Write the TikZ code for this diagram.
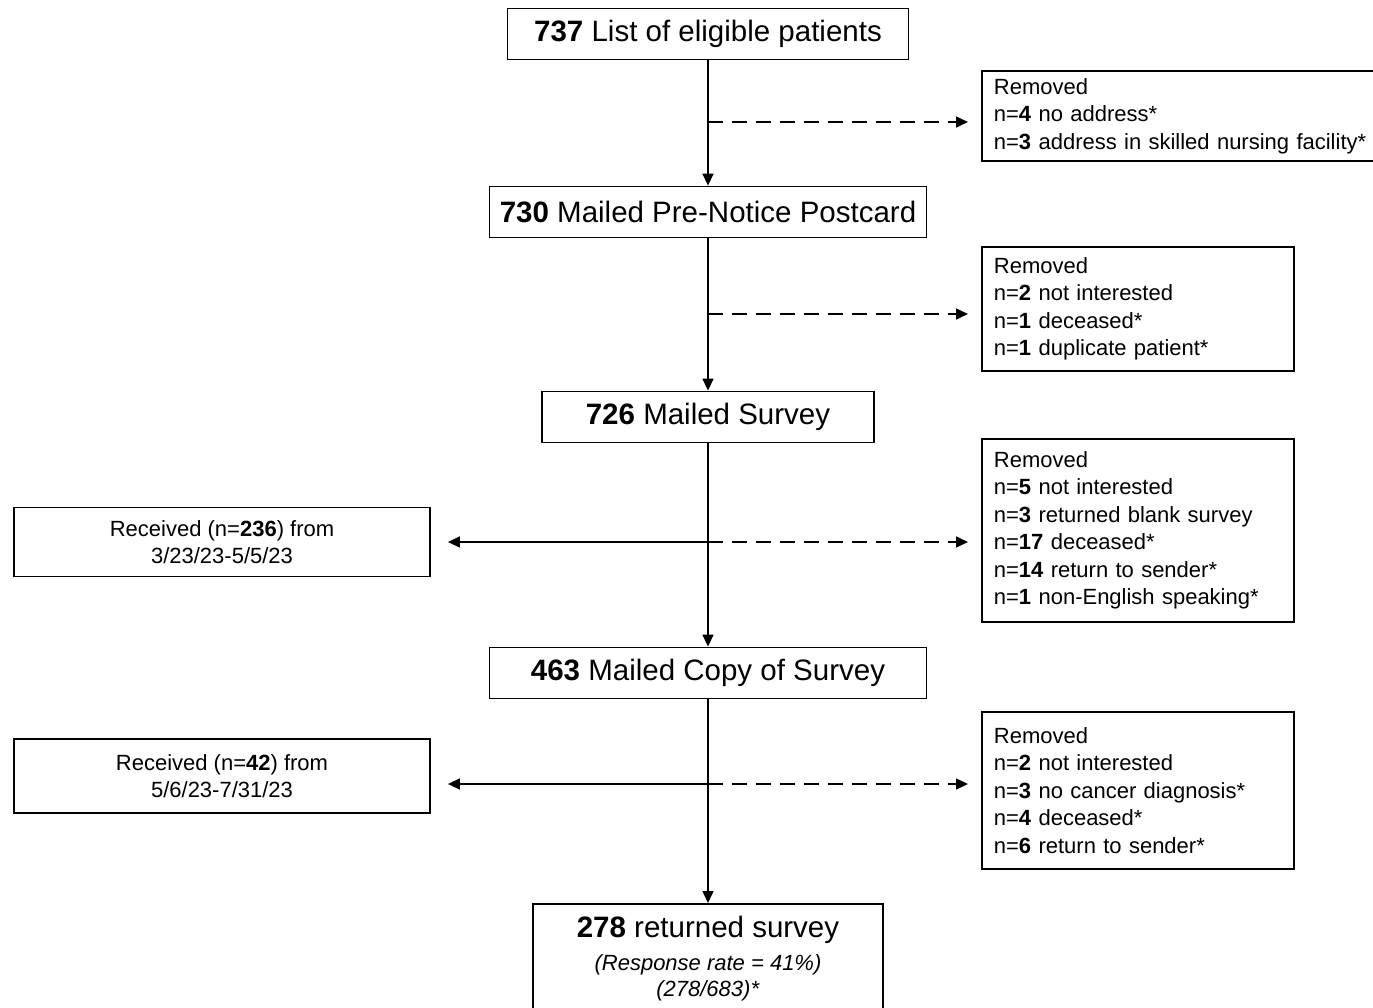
\documentclass[tikz,border=0pt]{standalone}
\usepackage{fontspec}
\setmainfont{Liberation Sans}
\usetikzlibrary{arrows.meta,positioning}

\tikzset{
  stepbox/.style={draw, line width=1.8pt, minimum height=51pt, inner sep=0pt,
    font=\fontsize{29.5}{35}\selectfont},
  removedbox/.style={draw, line width=1.8pt, anchor=north west, align=left,
    inner xsep=12pt, inner ysep=0pt, font=\fontsize{22}{27.5}\selectfont},
  receivedbox/.style={draw, line width=1.8pt, align=center, minimum width=416pt,
    inner sep=0pt, font=\fontsize{22}{27}\selectfont},
  flow/.style={line width=1.5pt, -{Triangle[length=12pt,width=11pt]}},
  dropout/.style={flow, dash pattern=on 15pt off 9pt, shorten >=13pt},
}

\begin{document}
\begin{tikzpicture}[x=1pt,y=-1pt]
    \useasboundingbox (0,0) rectangle (1373,1008);
    % main steps
    \node[stepbox, minimum width=401pt] (737) at (708,34) {\textbf{737} List of eligible patients};
    \node[stepbox, minimum width=437pt] (730) at (708,212) {\textbf{730} Mailed Pre-Notice Postcard};
    \node[stepbox, minimum width=332pt] (726) at (708,417) {\textbf{726} Mailed Survey};
    \node[stepbox, minimum width=437pt] (463) at (708,673) {\textbf{463} Mailed Copy of Survey};
    \node[stepbox, minimum width=350pt, minimum height=110pt, anchor=north, align=center,
        font=\fontsize{22}{26}\selectfont] (278) at (708,903)
        {{\fontsize{29.5}{35}\selectfont\textbf{278} returned survey}\\[7pt]
         \textit{(Response rate = 41\%)}\\ \textit{(278/683)*}};
    % removed
    \node[removedbox, text width=400pt, minimum height=90pt] (rm1) at (981,70)
        {Removed\\ n=\textbf{4} no address*\\ n=\textbf{3} address in skilled nursing facility*};
    \node[removedbox, text width=288pt, minimum height=124pt] (rm2) at (981,246)
        {Removed\\ n=\textbf{2} not interested\\ n=\textbf{1} deceased*\\ n=\textbf{1} duplicate patient*};
    \node[removedbox, text width=288pt, minimum height=183pt] (rm3) at (981,438)
        {Removed\\ n=\textbf{5} not interested\\ n=\textbf{3} returned blank survey\\
         n=\textbf{17} deceased*\\ n=\textbf{14} return to sender*\\ n=\textbf{1} non-English speaking*};
    \node[removedbox, text width=288pt, minimum height=157pt] (rm4) at (981,711)
        {Removed\\ n=\textbf{2} not interested\\ n=\textbf{3} no cancer diagnosis*\\
         n=\textbf{4} deceased*\\ n=\textbf{6} return to sender*};
    % received
    \node[receivedbox, minimum height=69pt] (rc1) at (222,542) {Received (n=\textbf{236}) from\\ 3/23/23-5/5/23};
    \node[receivedbox, minimum height=74pt] (rc2) at (222,776) {Received (n=\textbf{42}) from\\ 5/6/23-7/31/23};
    % branch points
    \coordinate (b1) at (708,122);
    \coordinate (b2) at (708,314);
    \coordinate (b3) at (708,542);
    \coordinate (b4) at (708,784);
    \draw[flow] (737) -- (730);
    \draw[flow] (730) -- (726);
    \draw[flow] (726) -- (463);
    \draw[flow] (463) -- (278);
    \draw[dropout] (b1) -- (b1 -| rm1.west);
    \draw[dropout] (b2) -- (b2 -| rm2.west);
    \draw[dropout] (b3) -- (b3 -| rm3.west);
    \draw[dropout] (b4) -- (b4 -| rm4.west);
    \draw[flow, shorten >=17pt] (b3) -- (b3 -| rc1.east);
    \draw[flow, shorten >=17pt] (b4) -- (b4 -| rc2.east);
\end{tikzpicture}
\end{document}
